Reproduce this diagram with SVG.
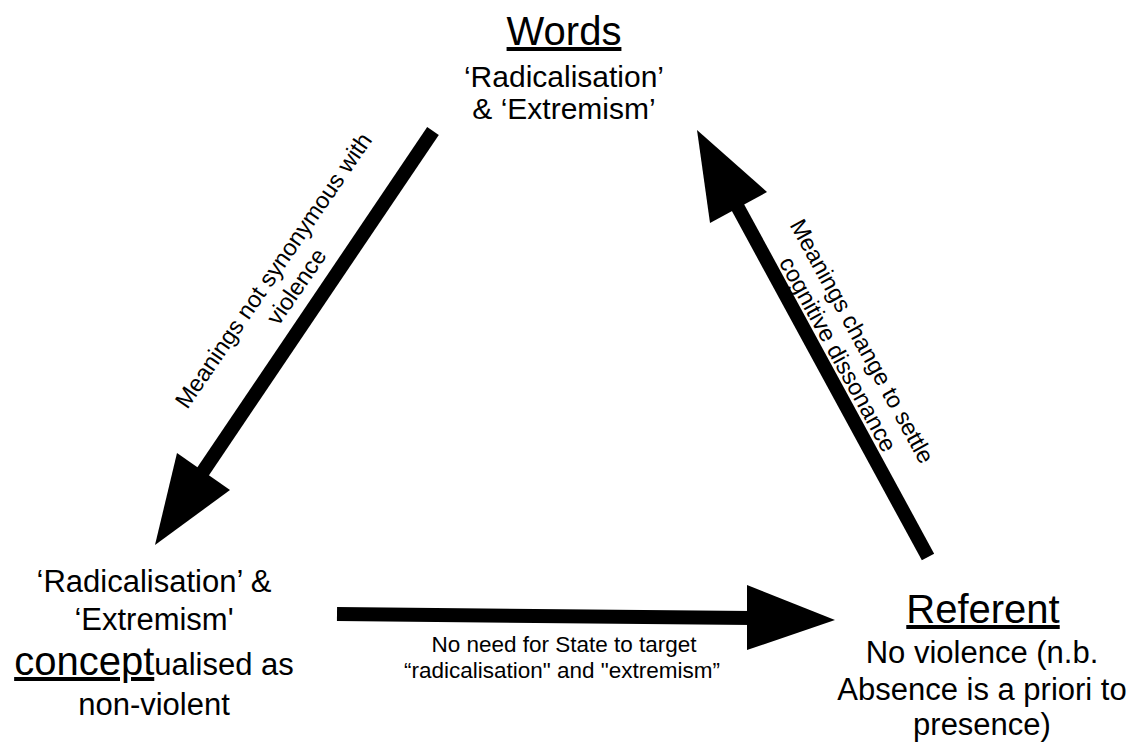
<svg xmlns="http://www.w3.org/2000/svg" width="1137" height="744" viewBox="0 0 1137 744">
<style>
  .t{font-family:"Liberation Sans",Arial,Helvetica,sans-serif;fill:#000;text-anchor:middle}
  .title{font-size:40px;text-decoration:underline}
  .body{font-size:30px}
  .body2{font-size:31px}
  .big{font-size:40px;text-decoration:underline}
  .lbl{font-size:22.5px}
  .dlbl{font-size:23.5px}
  .shaft{stroke:#000;stroke-width:14;fill:none;stroke-linecap:butt}
  .head{fill:#000;stroke:none}
</style>
<rect x="0" y="0" width="1137" height="744" fill="#ffffff"/>
<g id="connectors">
  <g id="edge-words-concept">
    <line class="shaft" x1="433" y1="131" x2="200" y2="476"/>
    <polygon class="head" points="177,453 230,490 155,545"/>
    <text class="t dlbl" transform="translate(280,275) rotate(-55.5)">Meanings not synonymous with</text>
    <text class="t dlbl" transform="translate(303,291) rotate(-55.5)">violence</text>
  </g>
  <g id="edge-concept-referent">
    <line class="shaft" x1="337" y1="614" x2="752" y2="618"/>
    <polygon class="head" points="747,585 747,650 835,620"/>
    <text class="t lbl" x="564" y="652">No need for State to target</text>
    <text class="t lbl" x="562" y="678">“radicalisation" and "extremism”</text>
  </g>
  <g id="edge-referent-words">
    <line class="shaft" x1="928" y1="557" x2="736" y2="204"/>
    <polygon class="head" points="697,130 767,192 710,223"/>
    <text class="t dlbl" transform="translate(855,345) rotate(61.3)">Meanings change to settle</text>
    <text class="t dlbl" transform="translate(831,358) rotate(61.3)">cognitive dissonance</text>
  </g>
</g>
<g id="node-words">
  <text class="t title" x="564" y="45">Words</text>
  <text class="t body" x="564" y="87">‘Radicalisation’</text>
  <text class="t body" x="564" y="119">&amp; ‘Extremism’</text>
</g>
<g id="node-concept">
  <text class="t body2" x="154" y="592">‘Radicalisation’ &amp;</text>
  <text class="t body2" x="154" y="630">‘Extremism'</text>
  <text class="t body2" x="154" y="675"><tspan class="big">concept</tspan>ualised as</text>
  <text class="t body2" x="154" y="715">non-violent</text>
</g>
<g id="node-referent">
  <text class="t title" x="983" y="623">Referent</text>
  <text class="t body2" x="982" y="663">No violence (n.b.</text>
  <text class="t body2" x="982" y="700">Absence is a priori to</text>
  <text class="t body2" x="982" y="735">presence)</text>
</g>
</svg>
